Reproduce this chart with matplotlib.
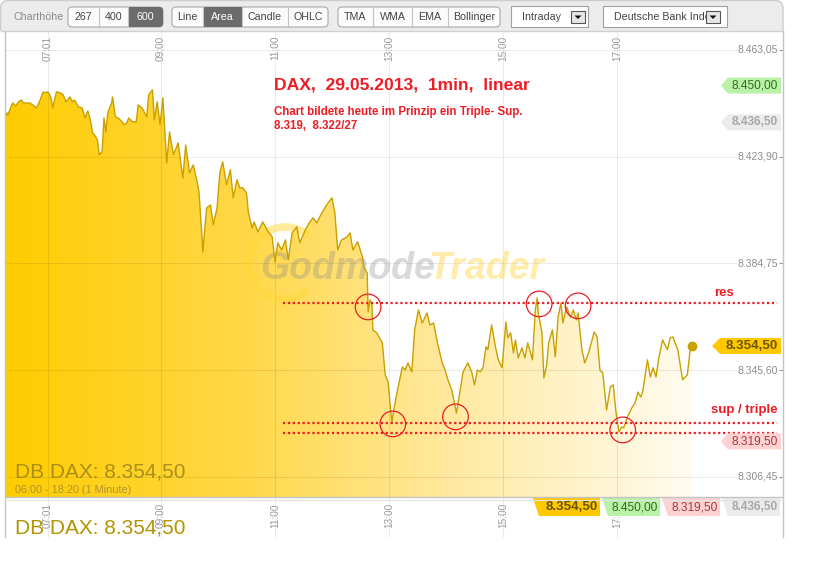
import numpy as np
import matplotlib.pyplot as plt
from matplotlib.patches import Polygon, FancyBboxPatch, Rectangle, Arc
from matplotlib.transforms import blended_transform_factory
from matplotlib.colors import LinearSegmentedColormap

plt.rcParams['font.family'] = ['Liberation Sans', 'DejaVu Sans']

# DAX 1-minute closes, 29.05.2013 -- time as minutes after 06:00
minutes = [16, 18, 19, 22, 24, 27, 30, 33, 35, 39, 42, 45, 49, 52, 56, 58, 61, 64, 66, 70,
           74, 77, 80, 84, 87, 89, 93, 97, 100, 103, 106, 108, 110, 113, 115, 118, 120, 122, 124, 128,
           129, 132, 135, 139, 141, 144, 146, 150, 154, 156, 160, 165, 167, 171, 173, 176, 179, 182, 186, 189,
           193, 196, 198, 203, 206, 210, 214, 218, 220, 223, 224, 228, 232, 235, 239, 242, 245, 249, 253, 256,
           260, 263, 266, 270, 272, 276, 278, 282, 287, 293, 297, 300, 303, 307, 311, 314, 318, 323, 326, 332,
           336, 340, 344, 347, 353, 356, 360, 363, 366, 370, 376, 379, 382, 387, 392, 394, 397, 398, 400, 402,
           403, 407, 413, 416, 419, 423, 425, 429, 434, 437, 440, 444, 447, 451, 455, 460, 463, 467, 471, 476,
           479, 482, 486, 491, 495, 498, 503, 507, 510, 513, 516, 519, 522, 524, 528, 532, 535, 539, 543, 545,
           548, 551, 553, 556, 560, 563, 566, 571, 574, 576, 577, 581, 583, 586, 588, 592, 595, 598, 601, 603,
           607, 611, 614, 617, 619, 623, 626, 630, 636, 639, 642, 645, 649, 653, 656, 659, 662, 665, 667, 671,
           676, 679, 682, 685, 687, 692, 695, 698, 701, 704, 708, 713, 716, 719, 721, 724, 729, 734, 737, 739]

prices = [8438.5, 8440.0, 8439.2, 8442.2, 8443.6, 8442.5, 8444.0, 8444.7, 8443.6, 8443.6,
          8443.6, 8442.9, 8441.8, 8444.0, 8447.7, 8447.3, 8447.7, 8445.8, 8441.8, 8447.7,
          8447.3, 8446.6, 8444.0, 8445.8, 8444.0, 8444.7, 8442.2, 8441.8, 8438.1, 8440.7,
          8436.7, 8432.6, 8431.9, 8430.1, 8424.6, 8425.7, 8438.1, 8433.0, 8440.0, 8443.6,
          8445.8, 8438.5, 8438.1, 8436.7, 8435.6, 8436.3, 8438.1, 8436.7, 8436.7, 8442.9,
          8441.8, 8438.5, 8446.6, 8448.4, 8437.4, 8444.0, 8435.6, 8445.5, 8421.6, 8433.0,
          8424.6, 8427.1, 8429.0, 8416.1, 8428.2, 8418.0, 8420.9, 8414.7, 8411.0, 8395.2,
          8389.0, 8405.1, 8406.2, 8398.9, 8405.1, 8418.3, 8422.0, 8413.6, 8419.1, 8408.8,
          8415.4, 8412.5, 8412.5, 8410.6, 8403.3, 8397.8, 8400.0, 8396.3, 8400.0, 8396.3,
          8394.5, 8385.3, 8392.3, 8389.7, 8393.4, 8386.1, 8396.0, 8398.2, 8392.3, 8397.1,
          8399.6, 8401.5, 8399.6, 8401.8, 8405.5, 8407.0, 8408.8, 8403.3, 8389.7, 8393.4,
          8394.5, 8396.0, 8389.7, 8392.7, 8387.2, 8383.1, 8381.3, 8367.0, 8371.4, 8369.6,
          8360.4, 8359.3, 8355.6, 8343.9, 8341.3, 8326.3, 8331.0, 8338.4, 8346.8, 8345.7,
          8348.3, 8345.0, 8360.4, 8367.7, 8362.9, 8366.6, 8362.2, 8362.9, 8355.6, 8348.3,
          8345.7, 8342.1, 8338.4, 8329.9, 8338.4, 8345.0, 8348.3, 8345.0, 8340.2, 8345.7,
          8345.0, 8346.5, 8354.2, 8353.1, 8362.2, 8354.2, 8349.4, 8346.5, 8363.3, 8357.5,
          8359.3, 8351.9, 8356.7, 8350.1, 8353.8, 8350.1, 8355.6, 8349.4, 8367.7, 8372.1,
          8366.6, 8359.3, 8342.8, 8347.5, 8355.6, 8360.4, 8350.5, 8365.1, 8370.3, 8362.9,
          8368.8, 8365.1, 8367.7, 8364.0, 8366.6, 8353.1, 8348.3, 8351.9, 8359.6, 8357.8,
          8345.7, 8344.6, 8331.0, 8339.5, 8340.2, 8329.9, 8323.0, 8324.8, 8324.5, 8328.5,
          8332.1, 8333.6, 8337.6, 8335.8, 8337.6, 8349.4, 8343.1, 8346.5, 8343.1, 8350.1,
          8356.7, 8353.1, 8357.5, 8357.8, 8355.6, 8353.1, 8342.1, 8343.9, 8353.1, 8354.5]

tick_minutes = [61, 180, 300, 420, 540, 660]
tick_labels = ['07:01', '09:00', '11:00', '13:00', '15:00', '17:00']
grid_levels = [8463.05, 8423.90, 8384.75, 8345.60, 8306.45]

last_price = 8354.50
high_price = 8450.00
low_price = 8319.50
open_price = 8436.50

res_level = 8370.4
sup_levels = [8326.4, 8322.6]
line_span = [308, 828]
circle_minutes = [398, 424, 490, 578, 619, 666]
circle_prices = [8368.8, 8325.9, 8328.5, 8369.9, 8369.2, 8323.7]

red = '#ee1c24'
gold = '#c9a000'


def de(v):
    s = '{:,.2f}'.format(v)
    return s.replace(',', 'X').replace('.', ',').replace('X', '.')


fig = plt.figure(figsize=(8.32, 5.62), dpi=100)

ax = fig.add_axes([5 / 832, 65 / 562, 778 / 832, 466 / 562], zorder=1)
ax.axis('off')
ylo, yhi = 8299.1, 8470.0
xlo, xhi = 15.8, 834.7

# ui overlay in pixel coords
ui = fig.add_axes([0, 0, 1, 1], zorder=3)
ui.set_xlim(0, 832)
ui.set_ylim(562, 0)
ui.axis('off')
ui.patch.set_alpha(0)

# ---- area fill with horizontal gradient
cmap = LinearSegmentedColormap.from_list('fill', [(0, '#ffcc00'), (0.35, '#ffd848'),
                                                  (0.65, '#ffe9a0'), (1, '#fffcf0')])
grad = np.linspace(0, 1, 256).reshape(1, -1)
im = ax.imshow(grad, cmap=cmap, aspect='auto', interpolation='bilinear',
               extent=[minutes[0], minutes[-1], ylo, yhi], zorder=1)
verts = [(minutes[0], ylo)] + list(zip(minutes, prices)) + [(minutes[-1], ylo)]
clip = Polygon(verts, closed=True, fc='none', ec='none')
ax.add_patch(clip)
im.set_clip_path(clip)
ax.set_xlim(xlo, xhi)
ax.set_ylim(ylo, yhi)

# ---- grid
xt = ax.get_xaxis_transform()
yt = ax.get_yaxis_transform()
ax.vlines(tick_minutes, -0.086, 1.0, transform=xt, color='k', alpha=0.08, lw=0.8, zorder=2, clip_on=False)
ax.hlines(grid_levels, 0, 0.941, transform=yt, color='k', alpha=0.08, lw=0.8, zorder=2)
ax.hlines(grid_levels, 0.9945, 1.0, transform=yt, color='#999999', lw=0.8, zorder=2)
for v in grid_levels:
    ax.text(0.9936, v, de(v), transform=yt, ha='right', va='center', fontsize=7.5, color='#8c8c8c', zorder=3)
for t, lab in zip(tick_minutes, tick_labels):
    ax.text(t, 0.990, lab, transform=xt, rotation=90, ha='center', va='top', fontsize=7.2, color='#9a9a9a')
    ax.text(t, -0.013, lab, transform=xt, rotation=90, ha='center', va='top', fontsize=7.2,
            color='#9a9a9a', clip_on=False)

# ---- watermark
ax.add_patch(Arc((285, 263), 72, 72, theta1=50, theta2=310, transform=ui.transData,
                 color='#ffd83a', alpha=0.5, lw=5.5, zorder=3))
ax.text(260, 279, 'Godmode', transform=ui.transData, fontsize=27, fontweight='bold', style='italic',
        color='#8a8a8a', alpha=0.32, zorder=3)
ax.text(428, 279, 'Trader', transform=ui.transData, fontsize=27, fontweight='bold', style='italic',
        color='#ffcf20', alpha=0.38, zorder=3)

# ---- price line
ax.plot(minutes, prices, color=gold, lw=1.0, zorder=4)
ax.plot(minutes[-1], prices[-1], 'o', ms=6, color=gold, zorder=5)

# ---- drawn resistance / support and circles
ax.hlines([res_level] + sup_levels, line_span[0], line_span[1], colors=red, lw=1.6,
          linestyles=(0, (1, 1.2)), zorder=5, clip_on=False)
ax.scatter(circle_minutes, circle_prices, s=340, facecolors='none', edgecolors=red, lw=0.9, zorder=6)
ax.text(773, res_level + 3.5, 'res', color=red, fontsize=9.5, fontweight='bold', ha='center', va='center', zorder=7)
ax.text(829, sup_levels[0] + 4.7, 'sup / triple', color=red, fontsize=9.5, fontweight='bold',
        ha='right', va='center', zorder=7)

# ---- right price tags
bt = blended_transform_factory(ax.transAxes, ax.transData)


def fx(px):
    return (px - 5) / 778.0


def price_tag(value, fc, tc, tip, body, size, weight):
    h = 8 * 0.3667
    pts = [(fx(tip), value), (fx(body), value + h), (fx(781), value + h),
           (fx(781), value - h), (fx(body), value - h)]
    ax.add_patch(Polygon(pts, closed=True, transform=bt, fc=fc, ec='none', zorder=8, clip_on=False))
    ax.text(fx(778), value, de(value), transform=bt, ha='right', va='center', fontsize=size,
            fontweight=weight, color=tc, zorder=9)


price_tag(high_price, '#b9f2a6', '#2d6e22', 721, 728, 8.6, 'normal')
price_tag(open_price, '#ebebeb', '#a8a8a8', 721, 728, 8.6, 'bold')
price_tag(last_price, '#ffc800', '#6b5600', 712, 720, 9.6, 'bold')
price_tag(low_price, '#ffd2d2', '#a33a3a', 721, 728, 8.6, 'normal')

# ---- texts inside the chart
ui.text(274, 89, 'DAX,  29.05.2013,  1min,  linear', color=red, fontsize=12.6, fontweight='bold')
ui.text(274, 115, 'Chart bildete heute im Prinzip ein Triple- Sup.', color=red, fontsize=8.3, fontweight='bold')
ui.text(274, 129, '8.319,  8.322/27', color=red, fontsize=8.3, fontweight='bold')
ui.text(15, 477, 'DB DAX: ' + de(last_price), color='#9c8418', alpha=0.85, fontsize=15)
ui.text(15, 493, '06:00 - 18:20 (1 Minute)', color='#a08a30', alpha=0.85, fontsize=7.8)
ui.text(15, 533, 'DB DAX: ' + de(last_price), color='#b39400', fontsize=15)

# ---- frame
ui.plot([5, 5], [31, 537], color='#c4c4c4', lw=1)
ui.plot([783, 783], [31, 537], color='#c4c4c4', lw=1)
ui.plot([5, 783], [497, 497], color='#c4c4c4', lw=1)
ui.plot([5, 783], [499.5, 499.5], color='#e2e2e2', lw=0.8)

# ---- bottom strip tags
strip = [(533, 600, last_price, '#ffc800', '#6b5600', 'bold', 9.6),
         (602, 660, high_price, '#b9f2a6', '#2d6e22', 'normal', 8.6),
         (662, 720, low_price, '#ffd2d2', '#a33a3a', 'normal', 8.6),
         (722, 780, open_price, '#ebebeb', '#a8a8a8', 'bold', 8.6)]
for x0, x1, v, fc, tc, w, fs in strip:
    ui.add_patch(Polygon([(x0, 498), (x1, 498), (x1, 516), (x0 + 6, 516)], closed=True, fc=fc, ec='none'))
    ui.text(x1 - 2, 507.5, de(v), ha='right', va='center', fontsize=fs, fontweight=w, color=tc)

# ---- toolbar
bar = FancyBboxPatch((0.5, 0.5), 782.5, 45, boxstyle='round,pad=0,rounding_size=8',
                     fc='#ececec', ec='#cdcdcd', lw=1)
ui.add_patch(bar)
bar.set_clip_path(Rectangle((0, 0), 784, 31, transform=ui.transData))
ui.plot([0.5, 783], [31, 31], color='#d0d0d0', lw=1)
ui.text(13, 17.5, 'Charthöhe', ha='left', va='center', fontsize=7.7, color='#8a8a8a')


def group(x0, x1, dividers, labels, active):
    box = FancyBboxPatch((x0, 7), x1 - x0, 20, boxstyle='round,pad=0,rounding_size=4',
                         fc='#fbfbfb', ec='#a9a9a9', lw=0.8, zorder=2)
    ui.add_patch(box)
    edges = [x0] + dividers + [x1]
    for i, lab in enumerate(labels):
        a, b = edges[i], edges[i + 1]
        if i == active:
            r = Rectangle((a, 7), b - a, 20, fc='#6b6b6b', ec='none', zorder=3)
            ui.add_patch(r)
            r.set_clip_path(box)
        ui.text((a + b) / 2, 17.5, lab, ha='center', va='center', fontsize=7.7, zorder=4,
                color='white' if i == active else '#444444')
    for d in dividers:
        ui.plot([d, d], [7, 27], color='#c4c4c4', lw=0.8, zorder=3)


group(68, 163, [99, 128], ['267', '400', '600'], 2)
group(172, 328, [203, 242, 288], ['Line', 'Area', 'Candle', 'OHLC'], 1)
group(338, 500, [373, 412, 448], ['TMA', 'WMA', 'EMA', 'Bollinger'], -1)


def dropdown(x0, x1, arrow_x, label):
    ui.add_patch(Rectangle((x0, 6), x1 - x0, 21, fc='white', ec='#a0a0a0', lw=0.8, zorder=2))
    t = ui.text(x0 + 11, 16.5, label, ha='left', va='center', fontsize=7.7, color='#444444', zorder=3)
    t.set_clip_path(Rectangle((x0, 6), arrow_x - x0 - 1, 21, transform=ui.transData))
    ui.add_patch(Rectangle((arrow_x, 11), 14, 12, fc='#e6e6e6', ec='#555555', lw=0.8, zorder=4))
    ui.add_patch(Polygon([(arrow_x + 3.5, 15.5), (arrow_x + 10.5, 15.5), (arrow_x + 7, 19)], closed=True,
                         fc='#111111', ec='none', zorder=5))


dropdown(511, 588, 571, 'Intraday')
dropdown(603, 727, 706, 'Deutsche Bank Index')

fig.savefig('out.png', dpi=100)
